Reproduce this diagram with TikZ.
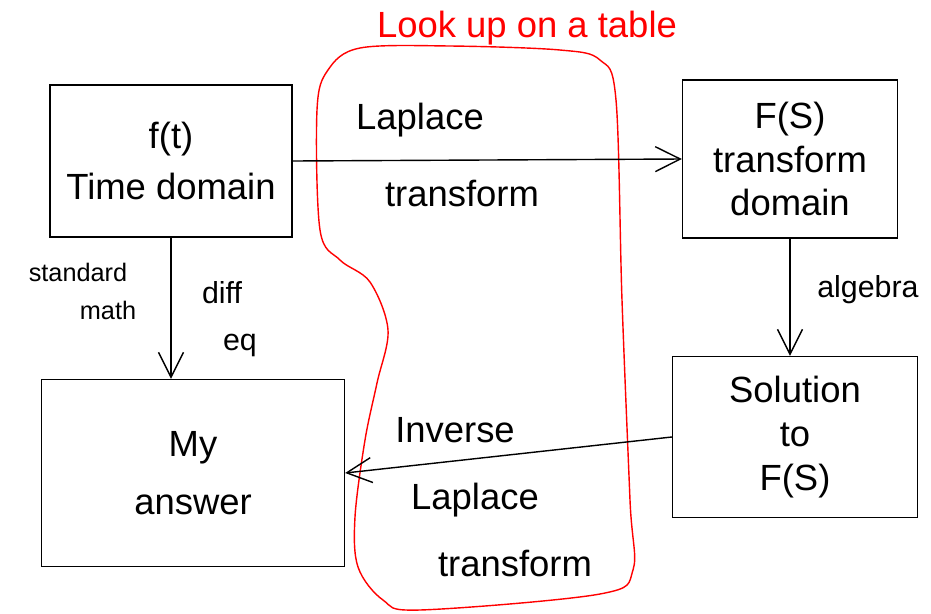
\documentclass[tikz,border=0pt]{standalone}
\usepackage{fontspec}
\setmainfont{Liberation Sans}
\usetikzlibrary{arrows.meta, positioning}

\begin{document}
\begin{tikzpicture}[x=0.02cm, y=-0.02cm, every node/.style={font=\huge}]
          \useasboundingbox (0,0) rectangle (931,613);
          % red region: look-up part
          \draw[red, thick] plot[smooth cycle, tension=0.55] coordinates {(317,110) (320,230) (340,260) (370,282) (388,330) (377,383) (365,440) (355,517) (358,567) (383,600) (420,610) (600,594) (633,570) (630,500) (622,300) (616,100) (600,60) (560,50) (450,46) (360,48) (328,70)};
          \node[red] (tbl) at (527,28) {Look up on a table};

          \node[draw, thick, minimum width=4.84cm, minimum height=3.04cm, align=center] (ft) at (171,161) {f(t)\\[4pt] Time domain};
          \node[draw, thick, minimum width=4.3cm, minimum height=3.16cm, align=center] (Fs) at (790,159) {F(S)\\ transform\\ domain};
          \node[draw, thick, minimum width=4.9cm, minimum height=3.22cm, align=center] (sol) at (795,437) {Solution\\ to\\ F(S)};
          \node[draw, thick, minimum width=6.06cm, minimum height=3.74cm, align=center] (ans) at (193,473) {My\\[8pt] answer};

          \draw[thick, -{Straight Barb[length=5mm, width=5mm]}] (ft.east) -- (Fs.west);
          \draw[thick, -{Straight Barb[length=5mm, width=5mm]}] (Fs.south) -- (Fs.south |- sol.north);
          \draw[thick, -{Straight Barb[length=5mm, width=5mm]}] (sol.west) -- (ans.east);
          \draw[thick, -{Straight Barb[length=5mm, width=5mm]}] (ft.south) -- (ft.south |- ans.north);

          \node (lap1) at (420,120) {Laplace};
          \node (lap2) at (462,193) {transform};
          \node (inv1) at (455,430) {Inverse};
          \node (inv2) at (475,500) {Laplace};
          \node (inv3) at (515,563) {transform};
          \node[font=\LARGE] (alg) at (868,290) {algebra};
          \node[font=\Large] (std1) at (78,272) {standard};
          \node[font=\Large] (std2) at (108,310) {math};
          \node[font=\LARGE] (dif1) at (222,293) {diff};
          \node[font=\LARGE] (dif2) at (240,345) {eq};
      \end{tikzpicture}
\end{document}
